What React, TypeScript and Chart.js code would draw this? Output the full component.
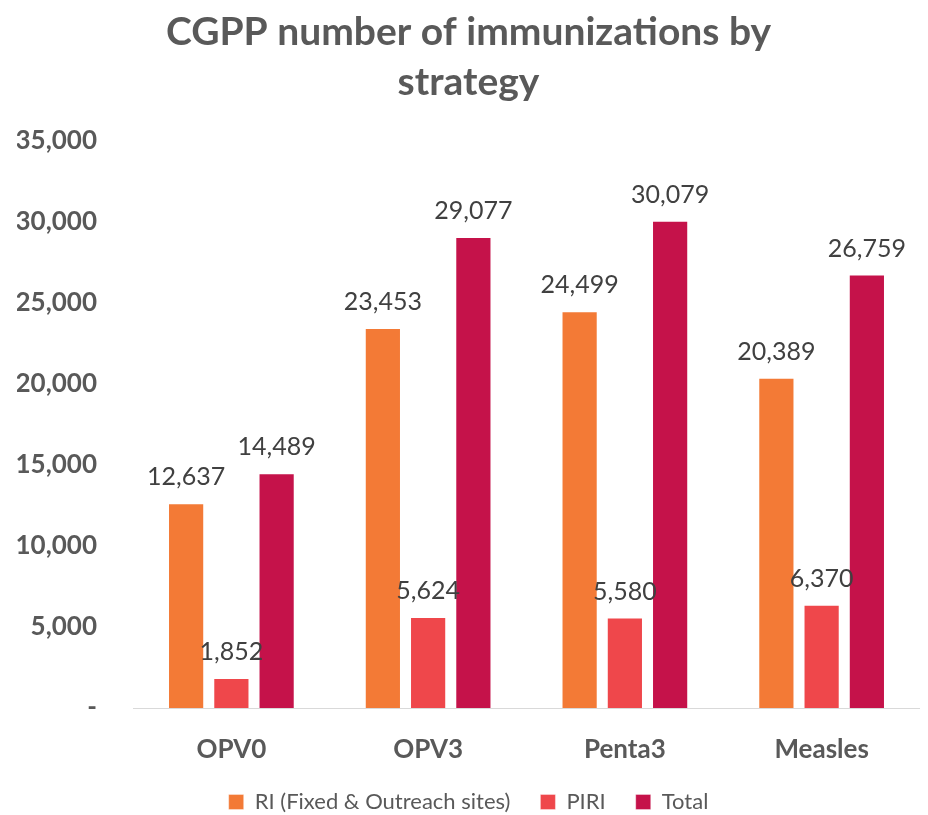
import React, { useEffect, useRef } from "react";
import { Chart, registerables } from "chart.js";

Chart.register(...registerables);

const categories = ["OPV0", "OPV3", "Penta3", "Measles"];
const seriesNames = ["RI (Fixed & Outreach sites)", "PIRI", "Total"];
const riValues = [12637, 23453, 24499, 20389];
const piriValues = [1852, 5624, 5580, 6370];
const totalValues = [14489, 29077, 30079, 26759];
const seriesColors = ["#F37A36", "#EF474B", "#C5124A"];
const titleLines = ["CGPP number of immunizations by", "strategy"];

const FONT = "Lato, 'Open Sans', sans-serif";

const fmt = (v: number) => (v === 0 ? "-" : v.toLocaleString("en-US"));

const dataLabels = {
  id: "dataLabels",
  afterDatasetsDraw(chart: any) {
    const ctx = chart.ctx;
    ctx.save();
    ctx.font = `25px ${FONT}`;
    ctx.fillStyle = "#404040";
    ctx.textAlign = "center";
    ctx.textBaseline = "middle";
    chart.data.datasets.forEach((ds: any, i: number) => {
      const meta = chart.getDatasetMeta(i);
      meta.data.forEach((bar: any, j: number) => {
        ctx.fillText(fmt(ds.data[j]), bar.x, bar.y - 26);
      });
    });
    ctx.restore();
  },
};

export default function App() {
  const ref = useRef<HTMLCanvasElement>(null);
  useEffect(() => {
    if (!ref.current) return;
    const values = [riValues, piriValues, totalValues];
    const chart = new Chart(ref.current, {
      type: "bar",
      data: {
        labels: categories,
        datasets: seriesNames.map((name, i) => ({
          label: name,
          data: values[i],
          backgroundColor: seriesColors[i],
          borderColor: "rgba(255,255,255,0.35)",
          borderWidth: 1,
          categoryPercentage: 0.69,
          barPercentage: 0.8,
        })),
      },
      options: {
        animation: false,
        responsive: true,
        maintainAspectRatio: false,
        layout: { padding: { left: 9, right: 0, top: 0, bottom: 0 } },
        plugins: {
          title: {
            display: true,
            text: titleLines,
            color: "#595959",
            font: { family: FONT, size: 39, weight: "bold", lineHeight: 1.27 },
            padding: { top: 0, bottom: 34 },
          },
          legend: {
            position: "bottom",
            labels: {
              color: "#595959",
              font: { family: FONT, size: 22 },
              boxWidth: 15,
              boxHeight: 15,
              padding: 30,
            },
          },
          tooltip: { enabled: false },
        },
        scales: {
          x: {
            grid: { display: false, drawTicks: false },
            border: { color: "#D9D9D9", width: 1 },
            afterFit: (scale: any) => {
              scale.height = 53;
            },
            ticks: {
              color: "#595959",
              font: { family: FONT, size: 26, weight: "bold" },
              padding: 26,
            },
          },
          y: {
            min: 0,
            max: 35000,
            grid: { display: false, drawTicks: false },
            border: { display: false },
            afterFit: (scale: any) => {
              scale.width = 116;
            },
            ticks: {
              stepSize: 5000,
              color: "#595959",
              font: { family: FONT, size: 26, weight: "bold" },
              padding: 36,
              callback: (v: any) => fmt(Number(v)),
            },
          },
        },
      },
      plugins: [dataLabels],
    });
    return () => chart.destroy();
  }, []);
  return (
    <div style={{ width: 912, height: 815 }}>
      <canvas ref={ref} />
    </div>
  );
}
